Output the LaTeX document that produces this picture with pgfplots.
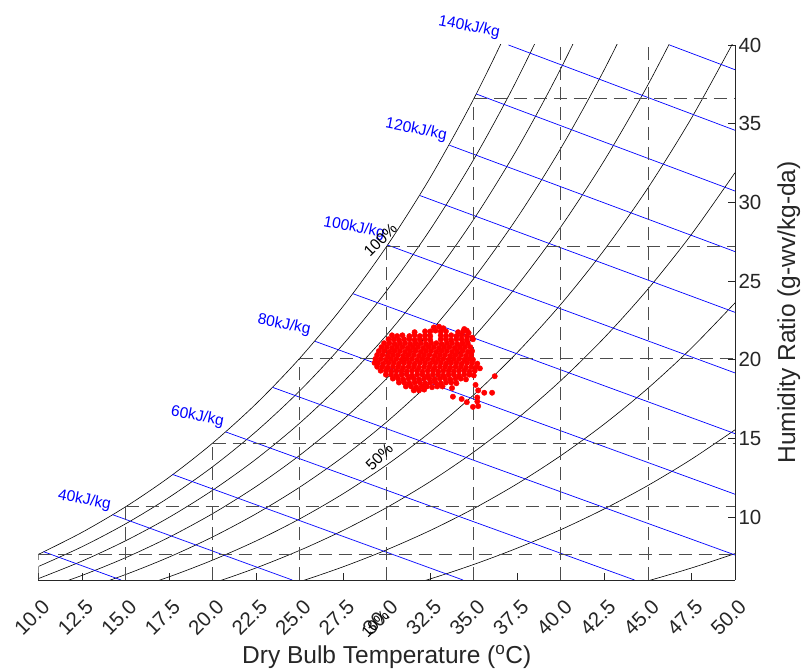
\documentclass[border=0pt]{standalone}
\usepackage{pgfplots}
\usepackage{pgfplotstable}
\pgfplotsset{compat=1.18}
\usepackage{fontspec}
\setmainfont{Liberation Sans}

% Humidity ratio (g/kg) on constant relative-humidity curves, p = 101.325 kPa
\pgfplotstableread{
T    r10   r20    r30    r40    r50    r60    r70    r80    r90    r100
10   0.755 1.512  2.270  3.031  3.793  4.557  5.323  6.091  6.860  7.632
12.5 0.891 1.785  2.681  3.580  4.482  5.386  6.293  7.202  8.114  9.028
15   1.049 2.101  3.157  4.217  5.280  6.347  7.417  8.491  9.569  10.651
17.5 1.231 2.466  3.706  4.952  6.202  7.457  8.717  9.982  11.253 12.528
20   1.439 2.885  4.338  5.798  7.264  8.737  10.217 11.704 13.198 14.700
22.5 1.679 3.366  5.063  6.769  8.484  10.209 11.943 13.687 15.440 17.203
25   1.952 3.916  5.893  7.882  9.884  11.899 13.926 15.967 18.020 20.087
27.5 2.264 4.544  6.841  9.154  11.485 13.833 16.199 18.582 20.983 23.403
30   2.618 5.258  7.921  10.606 13.315 16.046 18.801 21.581 24.384 27.212
32.5 3.020 6.069  9.148  12.258 15.398 18.569 21.773 25.008 28.276 31.577
35   3.475 6.989  10.542 14.136 17.771 21.447 25.167 28.929 32.736 36.587
37.5 3.988 8.028  12.119 16.265 20.465 24.721 29.033 33.403 37.833 42.322
40   4.567 9.201  13.904 18.678 23.524 28.444 33.439 38.513 43.664 48.897
42.5 5.217 10.521 15.917 21.405 26.989 32.670 38.451 44.336 50.326 56.425
45   5.946 12.008 18.187 24.488 30.914 37.469 44.157 50.983 57.949 65.062
47.5 6.763 13.675 20.741 27.965 35.354 42.912 50.647 58.564 66.669 74.969
50   7.676 15.544 23.611 31.885 40.373 49.085 58.029 67.215 76.652 86.352
}\rhtable

\definecolor{axgray}{RGB}{38,38,38}

\begin{document}
\begin{tikzpicture}
\useasboundingbox (-38.5pt,-91pt) rectangle (762.5pt,580pt);
\begin{axis}[
  at={(0pt,0pt)}, anchor=south west,
  scale only axis, width=696.5pt, height=535pt,
  xmin=10, xmax=50, ymin=6, ymax=40,
  axis x line*=bottom, axis y line*=right,
  axis line style={axgray, line width=0.8pt},
  tick align=inside, major tick length=7pt,
  tick style={axgray, line width=0.8pt},
  xtick={10,12.5,15,17.5,20,22.5,25,27.5,30,32.5,35,37.5,40,42.5,45,47.5,50},
  xticklabels={10.0,12.5,15.0,17.5,20.0,22.5,25.0,27.5,30.0,32.5,35.0,37.5,40.0,42.5,45.0,47.5,50.0},
  ytick={10,15,20,25,30,35,40},
  yticklabels={10,15,20,25,30,35,40},
  tick label style={font=\fontsize{20.5}{24}\selectfont, text=axgray},
  xticklabel style={xshift=10pt, yshift=-21pt, rotate=45, anchor=east},
  clip mode=individual,
  rh/.style={black, line width=0.6pt, smooth},
  enth/.style={blue, line width=0.7pt},
  grid dash/.style={black!70, line width=0.8pt, dash pattern=on 13pt off 7pt},
]
% relative humidity 10% ... 100%
\addplot[rh] table[x=T, y=r10]  {\rhtable};
\addplot[rh] table[x=T, y=r20]  {\rhtable};
\addplot[rh] table[x=T, y=r30]  {\rhtable};
\addplot[rh] table[x=T, y=r40]  {\rhtable};
\addplot[rh] table[x=T, y=r50]  {\rhtable};
\addplot[rh] table[x=T, y=r60]  {\rhtable};
\addplot[rh] table[x=T, y=r70]  {\rhtable};
\addplot[rh] table[x=T, y=r80]  {\rhtable};
\addplot[rh] table[x=T, y=r90]  {\rhtable};
\addplot[rh] table[x=T, y=r100] {\rhtable};

% constant enthalpy lines, 30 ... 150 kJ/kg
\addplot[enth] coordinates {(10.29,7.80) (14.74,6)};
\addplot[enth] coordinates {(14.26,10.15) (24.57,6)};
\addplot[enth] coordinates {(17.70,12.71) (34.38,6)};
\addplot[enth] coordinates {(20.75,15.41) (44.23,6)};
\addplot[enth] coordinates {(23.45,18.24) (50,7.59)};
\addplot[enth] coordinates {(25.88,21.17) (50,11.45)};
\addplot[enth] coordinates {(28.07,24.19) (50,15.30)};
\addplot[enth] coordinates {(30.04,27.29) (50,19.16)};
\addplot[enth] coordinates {(31.91,30.43) (50,23.01)};
\addplot[enth] coordinates {(33.60,33.63) (50,26.87)};
\addplot[enth] coordinates {(35.13,36.89) (50,30.72)};
\addplot[enth] coordinates {(36.99,40.00) (50,34.58)};
\addplot[enth] coordinates {(46.24,40.00) (50,38.43)};

% dry-bulb guides up to saturation, and saturation humidity ratio guides
\addplot[grid dash] coordinates {(10,6) (10,7.632)};
\addplot[grid dash] coordinates {(15,6) (15,10.651)};
\addplot[grid dash] coordinates {(20,6) (20,14.700)};
\addplot[grid dash] coordinates {(25,6) (25,20.087)};
\addplot[grid dash] coordinates {(30,6) (30,27.212)};
\addplot[grid dash] coordinates {(35,6) (35,36.587)};
\addplot[grid dash] coordinates {(40,6) (40,40)};
\addplot[grid dash] coordinates {(45,6) (45,40)};
\addplot[grid dash] coordinates {(10,7.632) (50,7.632)};
\addplot[grid dash] coordinates {(15,10.651) (50,10.651)};
\addplot[grid dash] coordinates {(20,14.700) (50,14.700)};
\addplot[grid dash] coordinates {(25,20.087) (50,20.087)};
\addplot[grid dash] coordinates {(30,27.212) (50,27.212)};
\addplot[grid dash] coordinates {(35,36.587) (50,36.587)};

% measured states
\addplot[only marks, mark=*, mark size=2.7pt, red, mark options={draw=red, fill=red}] coordinates {
(32.7,22.05) (33.0,22.1) (33.25,22.0) (34.45,21.95) (34.6,21.85)
(31.6,21.75) (32.2,21.8) (32.5,21.8) (32.8,21.85) (33.1,21.8) (33.4,21.8) (34.1,21.75) (34.4,21.8) (34.7,21.7)
(30.3,21.55) (30.6,21.5) (30.9,21.55) (31.3,21.5) (31.6,21.55) (31.9,21.5) (32.2,21.55) (32.5,21.5) (33.1,21.55) (33.4,21.5) (33.7,21.55) (34.0,21.5) (34.3,21.55) (34.6,21.5) (34.9,21.4)
(30.1,21.3) (30.4,21.3) (30.7,21.25) (31.0,21.3) (31.3,21.3) (31.6,21.25) (31.9,21.3) (32.2,21.3) (32.5,21.25) (33.1,21.3) (33.4,21.3) (33.7,21.25) (34.0,21.3) (34.3,21.3) (34.6,21.25) (34.95,21.3)
(29.85,21.05) (30.15,21.05) (30.45,21.0) (30.75,21.05) (31.05,21.05) (31.35,21.0) (31.65,21.05) (31.95,21.05) (32.25,21.0) (32.55,21.05) (32.85,21.05) (33.15,21.0) (33.45,21.05) (33.75,21.05) (34.05,21.0) (34.35,21.05) (34.65,21.05)
(29.7,20.8) (30.0,20.8) (30.3,20.75) (30.6,20.8) (30.9,20.8) (31.2,20.75) (31.5,20.8) (31.8,20.8) (32.1,20.75) (32.4,20.8) (32.7,20.8) (33.0,20.75) (33.3,20.8) (33.6,20.8) (33.9,20.75) (34.2,20.8) (34.5,20.8) (34.8,20.8)
(29.55,20.55) (29.85,20.55) (30.15,20.5) (30.45,20.55) (30.75,20.55) (31.05,20.5) (31.35,20.55) (31.65,20.55) (31.95,20.5) (32.25,20.55) (32.55,20.55) (32.85,20.5) (33.15,20.55) (33.45,20.55) (33.75,20.5) (34.05,20.55) (34.35,20.55) (34.65,20.5) (34.9,20.55)
(29.45,20.3) (29.75,20.3) (30.05,20.25) (30.35,20.3) (30.65,20.3) (30.95,20.25) (31.25,20.3) (31.55,20.3) (31.85,20.25) (32.15,20.3) (32.45,20.3) (32.75,20.25) (33.05,20.3) (33.35,20.3) (33.65,20.25) (33.95,20.3) (34.25,20.3) (34.55,20.25) (34.85,20.3)
(29.35,20.05) (29.65,20.05) (29.95,20.0) (30.25,20.05) (30.55,20.05) (30.85,20.0) (31.15,20.05) (31.45,20.05) (31.75,20.0) (32.05,20.05) (32.35,20.05) (32.65,20.0) (32.95,20.05) (33.25,20.05) (33.55,20.0) (33.85,20.05) (34.15,20.05) (34.45,20.0) (34.75,20.05) (34.95,20.0)
(29.3,19.8) (29.5,19.8) (29.8,19.75) (30.1,19.8) (30.4,19.8) (30.7,19.75) (31.0,19.8) (31.3,19.8) (31.6,19.75) (31.9,19.8) (32.2,19.8) (32.5,19.75) (32.8,19.8) (33.1,19.8) (33.4,19.75) (33.7,19.8) (34.0,19.8) (34.3,19.75) (34.6,19.8) (34.9,19.8) (35.2,19.75)
(29.45,19.55) (29.75,19.55) (30.05,19.5) (30.35,19.55) (30.65,19.55) (30.95,19.5) (31.25,19.55) (31.55,19.55) (31.85,19.5) (32.15,19.55) (32.45,19.55) (32.75,19.5) (33.05,19.55) (33.35,19.55) (33.65,19.5) (33.95,19.55) (34.25,19.55) (34.55,19.5) (34.85,19.55) (35.15,19.55) (35.35,19.45)
(29.65,19.3) (29.95,19.3) (30.25,19.25) (30.55,19.3) (30.85,19.3) (31.15,19.25) (31.45,19.3) (31.75,19.3) (32.05,19.25) (32.35,19.3) (32.65,19.3) (32.95,19.25) (33.25,19.3) (33.55,19.3) (33.85,19.25) (34.15,19.3) (34.45,19.3) (34.75,19.25) (35.05,19.3)
(29.95,19.05) (30.25,19.05) (30.55,19.0) (30.85,19.05) (31.15,19.05) (31.45,19.0) (31.75,19.05) (32.05,19.05) (32.35,19.0) (32.65,19.05) (32.95,19.05) (33.25,19.0) (33.55,19.05) (33.85,19.05) (34.15,19.0) (34.45,19.05) (34.75,19.05) (35.0,19.0)
(30.35,18.8) (30.65,18.8) (30.95,18.75) (31.25,18.8) (31.55,18.8) (31.85,18.75) (32.15,18.8) (32.45,18.8) (32.75,18.75) (33.05,18.8) (33.35,18.8) (33.65,18.75) (33.95,18.8) (34.25,18.8) (34.55,18.75)
(30.7,18.55) (31.0,18.55) (31.3,18.5) (31.6,18.55) (31.9,18.55) (32.2,18.5) (32.5,18.55) (32.8,18.55) (33.1,18.5) (33.4,18.55) (33.7,18.55) (34.0,18.5)
(31.1,18.3) (31.4,18.3) (31.7,18.25) (32.0,18.3) (32.3,18.3) (32.6,18.25) (32.9,18.3) (33.2,18.3)
(31.55,18.05) (31.85,18.05) (32.15,18.1)
(33.75,18.2) (33.8,17.65) (34.3,17.5) (34.6,17.3) (34.95,17.0) (35.25,17.05) (35.2,17.35) (35.2,17.6) (35.25,18.05) (35.6,17.9) (36.05,17.9) (36.2,18.95) (35.1,18.4)
};

% enthalpy labels
\begin{scope}[every node/.style={text=blue, rotate=-11, font=\fontsize{15.5}{18}\selectfont}]
\node at (axis cs:12.64,11.07) {40kJ/kg};
\node at (axis cs:19.13,16.38) {60kJ/kg};
\node at (axis cs:24.10,22.20) {80kJ/kg};
\node at (axis cs:28.13,28.37) {100kJ/kg};
\node at (axis cs:31.69,34.60) {120kJ/kg};
\node at (axis cs:34.73,41.14) {140kJ/kg};
\end{scope}
% relative humidity labels
\begin{scope}[every node/.style={text=black, rotate=45, font=\fontsize{15.5}{18}\selectfont}]
\node at (axis cs:29.63,27.60) {100\%};
\node at (axis cs:29.57,13.81) {50\%};
\node at (axis cs:29.33,3.19) {10\%};
\end{scope}
\end{axis}
\node[anchor=base, text=axgray, font=\fontsize{24.5}{28}\selectfont] at (348.25pt,-83.3pt) {Dry Bulb Temperature (\textsuperscript{o}C)};
\node[anchor=base, rotate=90, text=axgray, font=\fontsize{24.5}{28}\selectfont] at (756.5pt,267.5pt) {Humidity Ratio (g-wv/kg-da)};
\end{tikzpicture}
\end{document}
